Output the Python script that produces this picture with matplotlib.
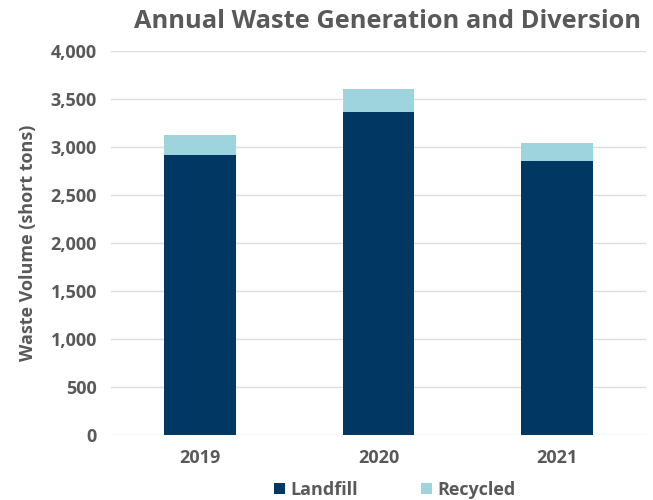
import numpy as np
import matplotlib.pyplot as plt
from matplotlib.ticker import FuncFormatter

# datos
years = ['2019', '2020', '2021']
landfill = [2920, 3365, 2850]
recycled = [200, 235, 195]

c_landfill = '#003763'
c_recycled = '#9dd4de'
gris = '#595959'

plt.rcParams['font.family'] = ['Open Sans', 'DejaVu Sans']

fig = plt.figure(figsize=(6.53, 5.0), dpi=100)
ax = fig.add_axes([111/653, 65/500, 535/653, 384/500])

x = np.arange(len(years))
ax.bar(x, landfill, width=0.4, color=c_landfill, label='Landfill', zorder=3)
ax.bar(x, recycled, width=0.4, bottom=landfill, color=c_recycled, label='Recycled', zorder=3)

ax.set_xlim(-0.5, 2.5)
ax.set_ylim(0, 4000)
ax.set_yticks(np.arange(0, 4001, 500))
ax.yaxis.set_major_formatter(FuncFormatter(lambda v, p: f'{int(v):,}'))
ax.set_xticks(x)
ax.set_xticklabels(years)
ax.grid(axis='y', color='#dedede', linewidth=1, zorder=0)
for s in ax.spines.values():
    s.set_visible(False)
ax.tick_params(length=0, labelsize=13, labelcolor=gris, pad=10)
for lab in ax.get_xticklabels() + ax.get_yticklabels():
    lab.set_fontweight('bold')

ax.set_ylabel('Waste Volume (short tons)', fontsize=13, color=gris, fontweight='bold', labelpad=10)
fig.text(388/653, 1 - 22/500, 'Annual Waste Generation and Diversion', ha='center', va='center',
         fontsize=18.3, color=gris, fontweight='bold')

fig.legend(loc='center', bbox_to_anchor=(395/653, 1 - 490/500), ncol=2, frameon=False,
           handlelength=0.6, handleheight=0.6, columnspacing=3.5, handletextpad=0.3,
           prop={'size': 13, 'weight': 'bold'}, labelcolor=gris)

plt.savefig('out.png', dpi=100)
